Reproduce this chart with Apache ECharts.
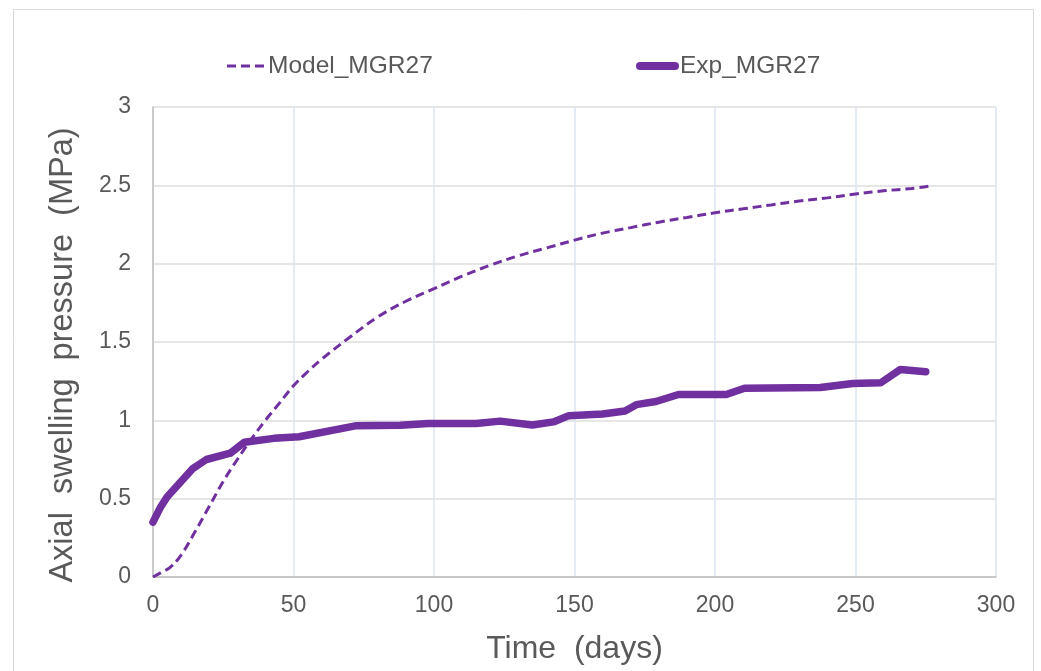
<!DOCTYPE html>
<html><head><meta charset="utf-8">
<script src="https://cdn.jsdelivr.net/npm/echarts@6/dist/echarts.min.js"></script>
<style>html,body{margin:0;padding:0;background:#fff;}#c{width:1041px;height:671px;}</style>
</head><body><div id="c"></div>
<script>
const expDays = [0, 2.5, 5, 14, 19, 27.5, 32.5, 43, 52, 72, 88, 98, 115, 123.5, 135, 142.5, 148, 160, 168, 172, 179, 187, 204, 210.5, 237.5, 249, 259, 266, 275];
const expVals = [0.35, 0.44, 0.51, 0.69, 0.75, 0.79, 0.86, 0.885, 0.895, 0.965, 0.968, 0.98, 0.98, 0.995, 0.97, 0.99, 1.03, 1.04, 1.06, 1.10, 1.12, 1.165, 1.165, 1.205, 1.21, 1.235, 1.24, 1.325, 1.31];
const modelDays = [0, 3, 6, 10, 15, 20, 25, 30, 35, 40, 45, 50, 55, 60, 70, 80, 90, 100, 110, 120, 130, 140, 150, 160, 170, 180, 190, 200, 210, 220, 230, 240, 250, 260, 270, 276];
const modelVals = [0.0, 0.03, 0.06, 0.14, 0.29, 0.45, 0.61, 0.75, 0.88, 1.0, 1.11, 1.22, 1.31, 1.39, 1.53, 1.66, 1.76, 1.84, 1.92, 1.99, 2.05, 2.10, 2.15, 2.195, 2.23, 2.265, 2.295, 2.325, 2.35, 2.375, 2.40, 2.42, 2.445, 2.465, 2.48, 2.495];
const xTicks = [0, 50, 100, 150, 200, 250, 300];
const yTicks = [0, 0.5, 1, 1.5, 2, 2.5, 3];
const seriesNames = ['Model_MGR27', 'Exp_MGR27'];
const xTitle = 'Time  (days)';
const yTitle = 'Axial  swelling  pressure  (MPa)';

const purple = '#7030a0';
const txt = '#595959';
const chart = echarts.init(document.getElementById('c'));
chart.setOption({
  animation: false,
  textStyle: {fontFamily: 'Liberation Sans, Arial, sans-serif'},
  graphic: [
    {type: 'rect', shape: {x: 13.5, y: 9.5, width: 1020, height: 700}, style: {fill: 'none', stroke: '#d9d9d9', lineWidth: 1}, z: -1, silent: true},
    {type: 'line', shape: {x1: 227, y1: 66, x2: 266, y2: 66}, style: {stroke: purple, lineWidth: 3, lineDash: [9, 5]}},
    {type: 'text', x: 268, y: 66, style: {text: seriesNames[0], fill: txt, font: '24.5px "Liberation Sans", Arial, sans-serif', textVerticalAlign: 'middle'}},
    {type: 'line', shape: {x1: 640, y1: 66, x2: 675, y2: 66}, style: {stroke: purple, lineWidth: 8, lineCap: 'round'}},
    {type: 'text', x: 680, y: 66, style: {text: seriesNames[1], fill: txt, font: '24.5px "Liberation Sans", Arial, sans-serif', textVerticalAlign: 'middle'}},
    {type: 'text', x: 63, y: 355, rotation: Math.PI / 2, style: {text: yTitle, fill: txt, font: '32.5px "Liberation Sans", Arial, sans-serif', textAlign: 'center', textVerticalAlign: 'middle'}}
  ],
  grid: {left: 153, right: 45, top: 107, bottom: 94},
  xAxis: {
    type: 'value', min: 0, max: 300, interval: 50,
    name: xTitle, nameLocation: 'middle', nameGap: 56,
    nameTextStyle: {fontSize: 32, color: txt},
    axisLine: {show: true, lineStyle: {color: '#bfbfbf', width: 1.5}},
    axisTick: {show: false},
    axisLabel: {fontSize: 23, color: txt, margin: 17, formatter: v => xTicks.includes(v) ? String(v) : ''},
    splitLine: {show: true, lineStyle: {color: '#dae5f0', width: 1.5}}
  },
  yAxis: {
    type: 'value', min: 0, max: 3, interval: 0.5,
    axisLine: {show: true, lineStyle: {color: '#bfbfbf', width: 1.5}},
    axisTick: {show: false},
    axisLabel: {fontSize: 23, color: txt, margin: 22, formatter: v => yTicks.includes(v) ? String(v) : ''},
    splitLine: {show: true, lineStyle: {color: '#dedede', width: 1.5}}
  },
  series: [
    {name: seriesNames[0], type: 'line', smooth: 0.4, symbol: 'none',
     lineStyle: {color: purple, width: 3, type: [9, 5]}, itemStyle: {color: purple},
     data: modelDays.map((d, i) => [d, modelVals[i]])},
    {name: seriesNames[1], type: 'line', smooth: false, symbol: 'none',
     lineStyle: {color: purple, width: 7.5, cap: 'round', join: 'round'}, itemStyle: {color: purple},
     data: expDays.map((d, i) => [d, expVals[i]])}
  ]
});
</script>
</body></html>
